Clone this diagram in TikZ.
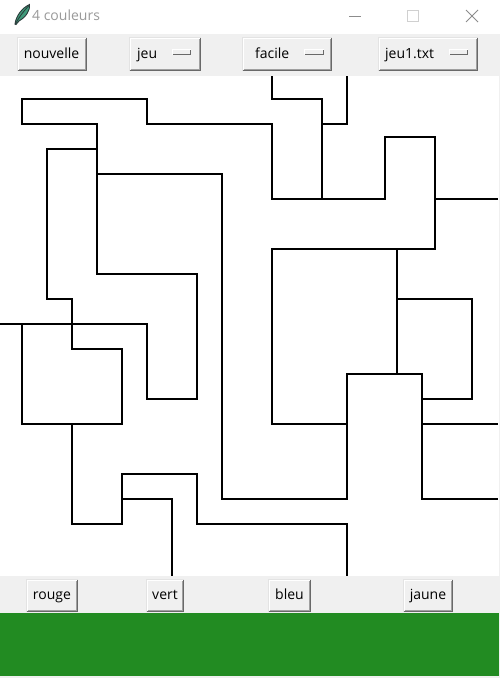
\documentclass[tikz,border=0pt]{standalone}
\usepackage{fontspec}
\setmainfont{Open Sans}
\definecolor{winbg}{HTML}{F0F0F0}
\definecolor{btnshadow}{HTML}{A0A0A0}
\definecolor{btndark}{HTML}{696969}
\definecolor{btnlight}{HTML}{E3E3E3}
\definecolor{forest}{HTML}{228B22}
\definecolor{titlegray}{HTML}{9A9A9A}
\definecolor{ctrlgray}{HTML}{8C8C8C}
\definecolor{ctrllight}{HTML}{D0D0D0}
\definecolor{featherdark}{HTML}{2B3A3A}
\definecolor{feathergreen}{HTML}{3F9A7A}
\newcommand\winbtn[4]{%
  \fill[winbg] (#1,#2) rectangle (#3,#4);
  \draw[btnlight,line width=1pt] ({#1+0.5},{#4-0.5}) -- ({#1+0.5},{#2+0.5}) -- ({#3-0.5},{#2+0.5});
  \draw[white,line width=1pt] ({#1+1.5},{#4-1.5}) -- ({#1+1.5},{#2+1.5}) -- ({#3-1.5},{#2+1.5});
  \draw[btndark,line width=1pt] ({#1+0.5},{#4-0.5}) -- ({#3-0.5},{#4-0.5}) -- ({#3-0.5},{#2+0.5});
  \draw[btnshadow,line width=1pt] ({#1+1.5},{#4-1.5}) -- ({#3-1.5},{#4-1.5}) -- ({#3-1.5},{#2+1.5});
}
\newcommand\winind[4]{%
  \fill[winbg] (#1,#2) rectangle (#3,#4);
  \draw[white,line width=1pt] ({#1+0.5},{#4-0.5}) -- ({#1+0.5},{#2+0.5}) -- ({#3-0.5},{#2+0.5});
  \draw[btndark,line width=1pt] ({#1+0.5},{#4-0.5}) -- ({#3-0.5},{#4-0.5}) -- ({#3-0.5},{#2+0.5});
}
\tikzset{
  btntext/.style={font=\fontsize{14}{16}\selectfont, inner sep=0pt, text=black},
  maze/.style={line width=1.3pt, black, line cap=rect, line join=miter},
}
\begin{document}
\begin{tikzpicture}[x=1pt,y={(0pt,-1pt)}]
\useasboundingbox (0,0) rectangle (500,678);
% window background
\fill[winbg] (0,0) rectangle (500,678);
% title bar
\fill[white] (0,0) rectangle (500,33.5);
% feather icon
\filldraw[fill=feathergreen, draw=featherdark, line width=0.9pt] (15,24) .. controls (16,16) and (22,8) .. (29.5,4.5) .. controls (30.5,10) and (26,17) .. (19,21) -- (16,24.5) -- cycle;
\draw[featherdark, line width=0.8pt] (15.5,24) .. controls (19,17) and (23,12) .. (28.5,6);
\node[btntext, text=titlegray, anchor=base west] (title) at (32,20.5) {4 couleurs};
% window controls
\draw[ctrlgray, line width=1pt] (349,16) -- (361,16);
\draw[ctrllight, line width=1pt] (407.5,10.5) rectangle (418.5,21.5);
\draw[ctrlgray, line width=1pt] (466,10) -- (478,22) (466,22) -- (478,10);
% top toolbar buttons
\winbtn{17}{37}{87}{71}
\node[btntext, anchor=base] (bnouvelle) at (51.5,58.5) {nouvelle};
\winbtn{129}{37}{201}{71}
\node[btntext, anchor=base west] (bjeu) at (137,58.5) {jeu};
\winind{172}{49}{191}{55}
\winbtn{242}{37}{332}{71}
\node[btntext, anchor=base west] (bfacile) at (255,58.5) {facile};
\winind{304}{49}{324}{55}
\winbtn{378}{37}{478}{71}
\node[btntext, anchor=base west] (bfichier) at (385,58.5) {jeu1.txt};
\winind{449}{49}{468}{55}
% canvas
\fill[white] (0,76) rectangle (498.5,576);
% maze lines
\draw[maze] (22,124) -- (22,99) -- (147,99) -- (147,124) -- (272,124) -- (272,199) -- (385,199) -- (385,137) -- (435,137) -- (435,249) -- (272,249) -- (272,424) -- (347,424);
\draw[maze] (22,124) -- (97,124) -- (97,274) -- (197,274) -- (197,399) -- (147,399) -- (147,324) -- (0,324);
\draw[maze] (47,149) -- (97,149);
\draw[maze] (97,174) -- (222,174) -- (222,499) -- (347,499);
\draw[maze] (47,149) -- (47,299) -- (72,299) -- (72,349) -- (122,349) -- (122,424) -- (22,424) -- (22,324);
\draw[maze] (72,424) -- (72,524) -- (122,524) -- (122,474) -- (197,474) -- (197,524) -- (347,524) -- (347,575);
\draw[maze] (122,499) -- (172,499) -- (172,575);
\draw[maze] (272,76.5) -- (272,99) -- (322,99) -- (322,199);
\draw[maze] (347,76.5) -- (347,124) -- (322,124);
\draw[maze] (435,199) -- (497,199);
\draw[maze] (397,249) -- (397,374);
\draw[maze] (397,299) -- (472,299) -- (472,399) -- (422,399);
\draw[maze] (347,499) -- (347,374) -- (422,374) -- (422,499) -- (497,499);
\draw[maze] (422,424) -- (497,424);
% bottom buttons
\winbtn{26}{579}{78}{612}
\node[btntext, anchor=base] (brouge) at (52,599.5) {rouge};
\winbtn{146}{579}{184}{612}
\node[btntext, anchor=base] (bvert) at (165,599.5) {vert};
\winbtn{268}{579}{311}{612}
\node[btntext, anchor=base] (bbleu) at (289.5,599.5) {bleu};
\winbtn{403}{579}{453}{612}
\node[btntext, anchor=base] (bjaune) at (428,599.5) {jaune};
% colour band
\fill[forest] (0,613) rectangle (499,676);
\end{tikzpicture}
\end{document}
